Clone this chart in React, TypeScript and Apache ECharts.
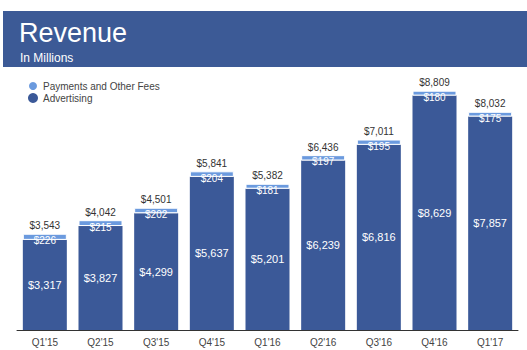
import React, { useEffect, useRef } from "react";
import * as echarts from "echarts";

const categories = ["Q1'15", "Q2'15", "Q3'15", "Q4'15", "Q1'16", "Q2'16", "Q3'16", "Q4'16", "Q1'17"];
const advertising = [3317, 3827, 4299, 5637, 5201, 6239, 6816, 8629, 7857];
const payments = [226, 215, 202, 204, 181, 197, 195, 180, 175];
const totals = [3543, 4042, 4501, 5841, 5382, 6436, 7011, 8809, 8032];

const DARK = "#3b5998";
const LIGHT = "#6b9ade";
const FONT = "'Liberation Sans', Arial, Helvetica, sans-serif";

const fmt = (v: number) => "$" + v.toLocaleString("en-US");

export default function App() {
  const ref = useRef<HTMLDivElement>(null);
  useEffect(() => {
    if (!ref.current) return;
    const chart = echarts.init(ref.current, null, { renderer: "svg" });
    chart.setOption({
      animation: false,
      backgroundColor: "#ffffff",
      textStyle: { fontFamily: FONT },
      graphic: [
        {
          type: "rect",
          shape: { x: 3, y: 11, width: 524, height: 56 },
          style: { fill: "#3c5a96" },
          z: 0,
        },
        {
          type: "text",
          x: 19,
          y: 19,
          style: { text: "Revenue", fill: "#ffffff", fontSize: 27, fontFamily: FONT },
        },
        {
          type: "text",
          x: 20,
          y: 52,
          style: { text: "In Millions", fill: "#ffffff", fontSize: 12, fontFamily: FONT },
        },
      ],
      legend: {
        orient: "vertical",
        left: 22,
        top: 75,
        icon: "circle",
        itemWidth: 10,
        itemHeight: 10,
        itemGap: 1,
        textStyle: { fontSize: 10, color: "#444", fontFamily: FONT },
        data: ["Payments and Other Fees", "Advertising"],
      },
      grid: { left: 17, right: 9, top: 85.5, bottom: 20, containLabel: false },
      xAxis: {
        type: "category",
        data: categories,
        axisLine: { lineStyle: { color: "#333", width: 1 } },
        axisTick: { show: false },
        axisLabel: { color: "#444", fontSize: 10, margin: 7, fontFamily: FONT },
      },
      yAxis: {
        type: "value",
        min: 0,
        max: 9000,
        show: false,
        splitLine: { show: false },
      },
      series: [
        {
          name: "Advertising",
          type: "bar",
          stack: "rev",
          barWidth: 44,
          data: advertising,
          itemStyle: { color: DARK },
          label: {
            show: true,
            position: "inside",
            color: "#fff",
            fontSize: 11,
            fontFamily: FONT,
            formatter: (p: any) => fmt(p.value),
          },
        },
        {
          name: "Payments and Other Fees",
          type: "bar",
          stack: "rev",
          barWidth: 44,
          data: payments,
          itemStyle: { color: LIGHT, borderColor: "#ffffff", borderWidth: 1 },
          label: {
            show: true,
            position: "inside",
            offset: [0, 4],
            color: "#fff",
            fontSize: 10,
            fontFamily: FONT,
            formatter: (p: any) => fmt(p.value),
          },
        },
        {
          name: "Total",
          type: "bar",
          stack: "rev",
          barWidth: 44,
          data: totals.map(() => 0),
          itemStyle: { color: "transparent" },
          label: {
            show: true,
            position: "top",
            distance: 3,
            color: "#333",
            fontSize: 10,
            fontFamily: FONT,
            formatter: (p: any) => fmt(totals[p.dataIndex]),
          },
        },
      ],
    });
    return () => chart.dispose();
  }, []);
  return (
    <div
      ref={ref}
      style={{ position: "fixed", left: 0, top: 0, width: 527, height: 350 }}
    />
  );
}
